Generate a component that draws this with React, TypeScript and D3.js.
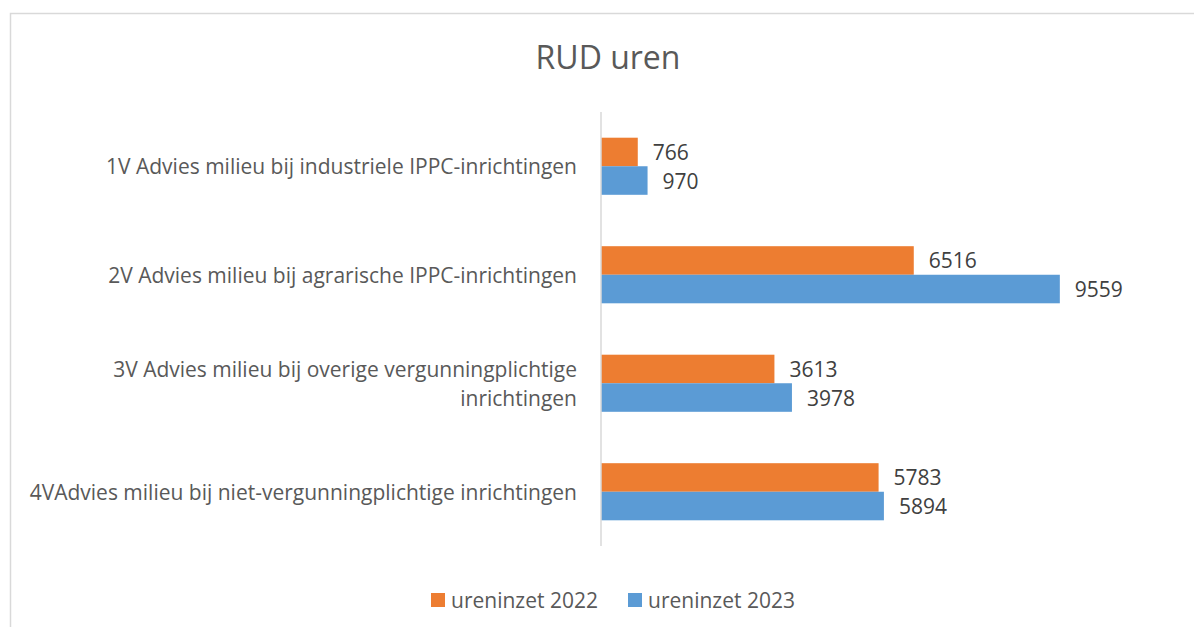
import React from "react";
import * as d3 from "d3";

const categories = [
  ["1V Advies milieu bij industriele IPPC-inrichtingen"],
  ["2V Advies milieu bij agrarische IPPC-inrichtingen"],
  ["3V Advies milieu bij overige vergunningplichtige", "inrichtingen"],
  ["4VAdvies milieu bij niet-vergunningplichtige inrichtingen"],
];
const series2022 = [766, 6516, 3613, 5783];
const series2023 = [970, 9559, 3978, 5894];
const seriesNames = ["ureninzet 2022", "ureninzet 2023"];
const colors = ["#ED7D31", "#5B9BD5"];

export default function App() {
  const W = 1194, H = 627;
  const x = d3.scaleLinear().domain([0, 12000]).range([601, 1177]);
  const y = d3.scaleBand().domain(categories.map((_, i) => String(i))).range([112, 546]);
  const inner = d3.scaleBand().domain(["0", "1"]).range([0, y.bandwidth()]).paddingInner(0).paddingOuter(0.9);
  const font = "'Open Sans', 'Segoe UI', sans-serif";
  const series = [series2022, series2023];
  const fs = 21;
  return (
    <svg width={W} height={H} style={{ position: "absolute", left: 0, top: 0, fontFamily: font }}>
      <rect x={0} y={0} width={W} height={H} fill="#fff" />
      <rect x={10.5} y={13.5} width={W + 20} height={H + 20} fill="#fff" stroke="#d9d9d9" strokeWidth={1.5} />
      <text x={608} y={69} textAnchor="middle" fontSize={32} fill="#595959">RUD uren</text>
      {categories.map((lines, i) => {
        const cy = (y(String(i)) as number) + y.bandwidth() / 2;
        const off = (lines.length - 1) * 14.5;
        return (
          <g key={i}>
            {lines.map((l, j) => (
              <text key={j} x={577} y={cy - off + j * 29 + 8} textAnchor="end" fontSize={fs} fill="#595959">{l}</text>
            ))}
            {series.map((s, k) => {
              const by = (y(String(i)) as number) + (inner(String(k)) as number);
              return (
                <g key={k}>
                  <rect x={x(0)} y={by} width={x(s[i]) - x(0)} height={inner.bandwidth()} fill={colors[k]} />
                  <text x={x(s[i]) + 15} y={by + inner.bandwidth() / 2 + 8} fontSize={fs} fill="#404040">{s[i]}</text>
                </g>
              );
            })}
          </g>
        );
      })}
      <line x1={601} x2={601} y1={112} y2={546} stroke="#d9d9d9" strokeWidth={1.5} />
      {seriesNames.map((n, k) => {
        const lx = k === 0 ? 431 : 628;
        return (
          <g key={n}>
            <rect x={lx} y={593} width={14} height={14} fill={colors[k]} />
            <text x={lx + 20} y={608} fontSize={fs} fill="#595959">{n}</text>
          </g>
        );
      })}
    </svg>
  );
}
